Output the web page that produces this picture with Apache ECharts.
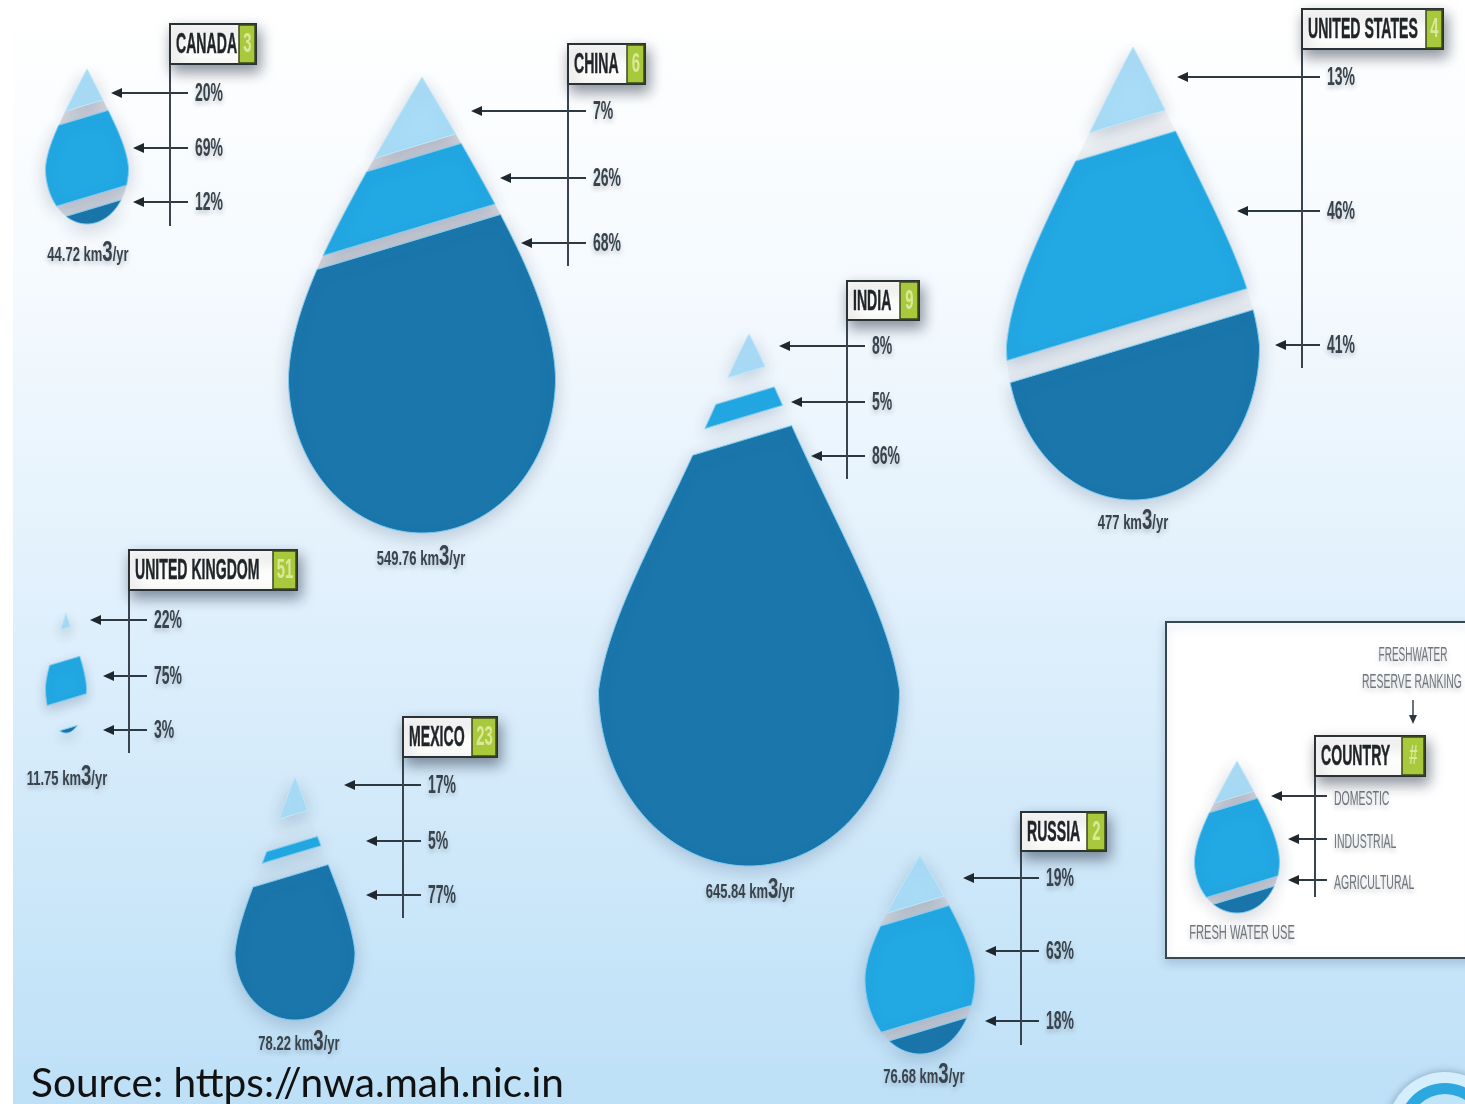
<!DOCTYPE html>
<html>
<head>
<meta charset="utf-8">
<style>html,body{margin:0;padding:0;background:#fff}#chart{width:1465px;height:1104px}</style>
<script src="https://cdn.jsdelivr.net/npm/echarts@6/dist/echarts.min.js"></script>
</head>
<body>
<div id="chart"></div>
<script>
// Freshwater withdrawals by country and how each is split between uses.
const countries = ['CANADA', 'CHINA', 'INDIA', 'UNITED STATES', 'UNITED KINGDOM', 'MEXICO', 'RUSSIA'];
const ranks = ['3', '6', '9', '4', '51', '23', '2'];
const domestic = [20, 7, 8, 13, 22, 17, 19];
const industrial = [69, 26, 5, 46, 75, 5, 63];
const agricultural = [12, 68, 86, 41, 3, 77, 18];
const withdrawals = ['44.72', '549.76', '645.84', '477', '11.75', '78.22', '76.68'];

// Key panel content.
const keyTitle = 'COUNTRY';
const keyRank = '#';
const keyUses = ['DOMESTIC', 'INDUSTRIAL', 'AGRICULTURAL'];
const keyShares = [20, 68, 12];
const keyCaption = 'FRESH WATER USE';
const keyNote = ['FRESHWATER', 'RESERVE RANKING'];
const sourceNote = 'Source: https://nwa.mah.nic.in';

// Placement of each drop, country first and the key drop last: centre x, tip y, bottom y, half width.
const dropBoxes = [
  [87, 69, 224, 41.5], [422, 77, 533, 133.5], [749, 334, 866, 150.5], [1133, 47, 500, 126.5],
  [66, 613, 733, 20.5], [295, 777, 1020, 60], [920, 855, 1054, 55], [1237, 761, 913, 42.5]
];
// Outline character of each drop: how far down the widest point sits, and how slim the shoulders are.
const dropBellies = [0.64, 0.66, 0.67, 0.66, 0.62, 0.72, 0.62, 0.66];
const dropSlimness = [0.1, 0.04, 0.2, 0.13, 0.15, 0.2, 0.05, 0.05];
// The narrow tip needs its cuts moved down so that small shares stay visible.
const cutShifts = [[11, -2], [41, 6], [6, 23], [26, 20], [5, -15], [10, 33], [16, 8], [9, -2]];
const cutGaps = [[12, 13], [11, 12], [23, 23], [24, 23], [32, 29], [29, 21], [11, 11], [8, 9]];
const gapShades = [0.85, 0.9, 0, 0.25, 0, 0.1, 0.85, 0.9];
// Header boxes: left, top, right, bottom, start of the rank tile, foot of the stem.
const headers = [
  [170, 24, 256, 64, 239, 226], [568, 44, 645, 84, 627, 266], [847, 281, 919, 320, 900, 479],
  [1302, 9, 1443, 49, 1426, 368], [129, 550, 297, 590, 273, 753], [403, 717, 497, 757, 472, 918],
  [1021, 812, 1106, 851, 1087, 1045], [1315, 736, 1425, 776, 1402, 897]
];
const arrowRows = [[93, 148, 202], [111, 178, 243], [346, 402, 456], [77, 211, 345], [620, 676, 730], [785, 841, 895], [878, 951, 1021], [796, 839, 880]];
const arrowTips = [[111, 133, 133], [471, 500, 521], [779, 791, 811], [1177, 1237, 1275], [90, 103, 103], [344, 366, 366], [963, 985, 985], [1271, 1288, 1288]];
const volumeSpots = [[88, 252], [421, 556], [750, 889], [1133, 520], [67, 776], [299, 1041], [924, 1074]];

const segmentColors = ['#a9dcf6', '#22a8e3', '#1a76ab'];
const GOTHIC = '"Liberation Sans", Arial, sans-serif';
const CUT_SLOPE = -0.3;

function sharesOf(i) {
  return i < countries.length ? [domestic[i], industrial[i], agricultural[i]] : keyShares;
}

// Outline of a drop, sampled in chart units: a tapered upper body over a rounded base.
function dropOutline(i) {
  const [cx, tip, bottom, half] = dropBoxes[i];
  const belly = dropBellies[i], slim = dropSlimness[i];
  const h = bottom - tip, right = [];
  for (let k = 0; k <= 60; k++) {
    const s = k / 60;
    const body = 1.4 * s - 0.3 * Math.pow(s, 3) - 0.1 * Math.pow(s, 5);
    const w = body * (1 - slim * Math.sin(Math.PI * Math.sqrt(s)));
    right.push([cx + half * w, tip + h * belly * s]);
  }
  for (let k = 1; k <= 60; k++) {
    const a = k / 60 * Math.PI / 2;
    right.push([cx + half * Math.cos(a), tip + h * (belly + (1 - belly) * Math.sin(a))]);
  }
  const left = right.slice(1, -1).reverse().map(p => [2 * cx - p[0], p[1]]);
  return right.concat(left);
}

// Keeps the part of a polygon on one side of a slanted cut.
function clipAt(poly, cx, y0, keepBelow) {
  const side = p => {
    const d = p[1] - (y0 + CUT_SLOPE * (p[0] - cx));
    return keepBelow ? d : -d;
  };
  const out = [];
  poly.forEach((p, i) => {
    const q = poly[(i + 1) % poly.length], a = side(p), b = side(q);
    if (a >= 0) out.push(p);
    if (a * b < 0) {
      const r = a / (a - b);
      out.push([p[0] + (q[0] - p[0]) * r, p[1] + (q[1] - p[1]) * r]);
    }
  });
  return out;
}

// Vertical positions of both cuts, taken from the cumulative shares.
function cutsOf(i) {
  const s = sharesOf(i), sum = s[0] + s[1] + s[2];
  const [, tip, bottom] = dropBoxes[i];
  const h = bottom - tip;
  return [
    tip + h * s[0] / sum + cutShifts[i][0],
    tip + h * (s[0] + s[1]) / sum + cutShifts[i][1]
  ];
}

function label(api, x, y, text, opt) {
  const p = api.coord([x, y]);
  return {
    type: 'text', x: p[0], y: p[1], scaleX: opt.sx || 1,
    style: {
      text: text, fill: opt.fill || '#2f3942', align: opt.align || 'left', verticalAlign: 'middle',
      font: (opt.weight || 'bold') + ' ' + opt.size + 'px ' + (opt.family || GOTHIC),
      stroke: opt.thicken ? opt.fill : undefined, lineWidth: opt.thicken || 0,
      textShadowColor: opt.soft === false ? 'transparent' : 'rgba(40,50,70,0.28)',
      textShadowBlur: opt.soft === false ? 0 : 5, textShadowOffsetY: 3,
      rich: opt.rich
    }
  };
}

function polygonOf(api, pts, style) {
  return { type: 'polygon', shape: { points: pts.map(p => api.coord(p)) }, style: style };
}

// One row per band of a drop: drop index, band index, share.
const bandRows = [];
dropBoxes.forEach((_, i) => sharesOf(i).forEach((v, b) => bandRows.push([i, b, v])));

function renderBand(params, api) {
  const i = api.value(0), b = api.value(1);
  const box = dropBoxes[i], cuts = cutsOf(i), gaps = cutGaps[i], cx = box[0];
  const outline = dropOutline(i);
  let pts = outline;
  if (b > 0) pts = clipAt(pts, cx, cuts[b - 1] + gaps[b - 1] / 2, true);
  if (b < 2) pts = clipAt(pts, cx, cuts[b] - gaps[b] / 2, false);
  const children = [];
  if (b < 2 && gapShades[i] > 0) {
    let band = clipAt(outline, cx, cuts[b] - gaps[b] / 2, true);
    band = clipAt(band, cx, cuts[b] + gaps[b] / 2, false);
    children.push(polygonOf(api, band, { fill: 'rgba(208,211,220,' + gapShades[i] + ')' }));
  }
  children.push(polygonOf(api, pts, {
    fill: segmentColors[b],
    stroke: b === 0 ? '#c2e8fa' : '#7fcdf2', lineWidth: 1,
    shadowColor: 'rgba(45,65,100,0.24)', shadowBlur: Math.min(18, box[3] * 0.3 + 6), shadowOffsetY: 5
  }));
  return { type: 'group', children: children };
}

function renderHeader(params, api) {
  const i = api.value(0);
  const [l, t, r, bot, tile, foot] = headers[i];
  const name = i < countries.length ? countries[i] : keyTitle;
  const rank = i < countries.length ? ranks[i] : keyRank;
  const a = api.coord([l, t]), c = api.coord([r, bot]), tl = api.coord([tile, t]);
  const s0 = api.coord([l, bot]), s1 = api.coord([l, foot]);
  return {
    type: 'group',
    children: [
      { type: 'line', shape: { x1: s0[0], y1: s0[1], x2: s1[0], y2: s1[1] }, style: { stroke: '#3a444e', lineWidth: 2 } },
      {
        type: 'rect', shape: { x: a[0], y: a[1], width: c[0] - a[0], height: c[1] - a[1] },
        style: { fill: '#fdfdfb', stroke: '#2b3234', lineWidth: 2, shadowColor: 'rgba(30,40,60,0.5)', shadowBlur: 14, shadowOffsetX: 3, shadowOffsetY: 7 }
      },
      {
        type: 'rect', shape: { x: tl[0], y: a[1] + 1, width: c[0] - tl[0] - 1, height: c[1] - a[1] - 2 },
        style: { fill: '#a7c93b', stroke: '#3c4a1e', lineWidth: 1.5 }
      },
      label(api, l + 6, (t + bot) / 2 + 1, name, { size: 30, sx: 0.47, fill: '#1f2428', soft: false, thicken: 0.5 }),
      label(api, (tile + r) / 2, (t + bot) / 2 + 1, rank, { size: 27, sx: 0.55, fill: '#dbe89a', align: 'center', soft: false })
    ]
  };
}

function renderArrow(params, api) {
  const i = api.value(0), b = api.value(1);
  const stem = headers[i][0], y = arrowRows[i][b], tip = arrowTips[i][b];
  const isKey = i >= countries.length;
  const end = stem + (isKey ? 12 : 18);
  const p0 = api.coord([tip + 6, y]), p1 = api.coord([end, y]);
  const text = isKey ? keyUses[b] : api.value(2) + '%';
  return {
    type: 'group',
    children: [
      { type: 'line', shape: { x1: p0[0], y1: p0[1], x2: p1[0], y2: p1[1] }, style: { stroke: '#2f3942', lineWidth: 2 } },
      polygonOf(api, [[tip, y], [tip + 11, y - 5], [tip + 11, y + 5]], { fill: '#20282f' }),
      isKey
        ? label(api, end + 7, y + 3, text, { size: 21, sx: 0.5, weight: 'normal', fill: '#6f767c' })
        : label(api, end + 7, y + 1, text, { size: 25, sx: 0.56, fill: '#39434c' })
    ]
  };
}

function renderVolume(params, api) {
  const i = api.value(0);
  const spot = volumeSpots[i];
  return {
    type: 'group',
    children: [label(api, spot[0], spot[1], '{a|' + withdrawals[i] + ' km}{b|3}{a|/yr}', {
      size: 21, sx: 0.62, align: 'center', fill: '#39434c',
      rich: {
        a: { font: 'bold 21px ' + GOTHIC, fill: '#39434c', verticalAlign: 'bottom', lineHeight: 22 },
        b: { font: 'bold 30px ' + GOTHIC, fill: '#39434c', verticalAlign: 'top', lineHeight: 28, padding: [0, 0, 7, 0] }
      }
    })]
  };
}

// White key panel with its notes; the drop and arrows inside it come from the same series as the rest.
function renderPanel(params, api) {
  const a = api.coord([1166, 622]), c = api.coord([1475, 958]);
  const ax = api.coord([1413, 700]), ay = api.coord([1413, 716]);
  return {
    type: 'group',
    children: [
      {
        type: 'rect', shape: { x: a[0], y: a[1], width: c[0] - a[0], height: c[1] - a[1] },
        style: { fill: '#ffffff', stroke: '#3a4650', lineWidth: 2, shadowColor: 'rgba(60,90,130,0.25)', shadowBlur: 10, shadowOffsetY: 4 }
      },
      label(api, 1413, 655, keyNote[0], { size: 20, sx: 0.5, weight: 'normal', fill: '#6f767c', align: 'center' }),
      label(api, 1412, 682, keyNote[1], { size: 20, sx: 0.52, weight: 'normal', fill: '#6f767c', align: 'center' }),
      { type: 'line', shape: { x1: ax[0], y1: ax[1], x2: ay[0], y2: ay[1] }, style: { stroke: '#3a444e', lineWidth: 1.5 } },
      polygonOf(api, [[1413, 724], [1409, 715], [1417, 715]], { fill: '#2f3942' }),
      label(api, 1242, 933, keyCaption, { size: 21, sx: 0.53, weight: 'normal', fill: '#6f767c', align: 'center' })
    ]
  };
}

function renderSource(params, api) {
  return { type: 'group', children: [label(api, 31, 1084, sourceNote, { size: 41, sx: 0.99, weight: 'normal', family: 'Lato, "Open Sans", sans-serif', fill: '#111111', soft: false })] };
}

const dropIndexes = dropBoxes.map((_, i) => [i]);
const hiddenAxis = { type: 'value', show: false, min: 0, splitLine: { show: false } };

const chart = echarts.init(document.getElementById('chart'), null, { renderer: 'canvas' });
chart.setOption({
  animation: false,
  backgroundColor: '#ffffff',
  grid: { left: 0, right: 0, top: 0, bottom: 0 },
  xAxis: Object.assign({}, hiddenAxis, { max: 1465 }),
  yAxis: Object.assign({}, hiddenAxis, { max: 1104, inverse: true }),
  graphic: [
    {
      type: 'rect', z: -10, shape: { x: 13, y: 0, width: 1452, height: 1104 },
      style: {
        fill: {
          type: 'linear', x: 0, y: 0, x2: 0, y2: 1,
          colorStops: [
            { offset: 0, color: '#ffffff' }, { offset: 0.25, color: '#f5fafe' },
            { offset: 0.55, color: '#e0f0fc' }, { offset: 1, color: '#bde0f7' }
          ]
        }
      }
    },
    { type: 'circle', z: -5, shape: { cx: 1445, cy: 1130, r: 58 }, style: { fill: '#d4eefb', shadowColor: 'rgba(60,80,110,0.45)', shadowBlur: 8 } },
    { type: 'circle', z: -5, shape: { cx: 1445, cy: 1130, r: 47 }, style: { fill: '#2aa8df' } },
    { type: 'circle', z: -5, shape: { cx: 1445, cy: 1130, r: 36 }, style: { fill: '#bfe4f8' } }
  ],
  series: [
    { type: 'custom', name: 'key panel', coordinateSystem: 'cartesian2d', data: [[0]], renderItem: renderPanel, z: 1, silent: true },
    { type: 'custom', name: 'water use', coordinateSystem: 'cartesian2d', data: bandRows, renderItem: renderBand, z: 2, silent: true },
    { type: 'custom', name: 'arrows', coordinateSystem: 'cartesian2d', data: bandRows, renderItem: renderArrow, z: 3, silent: true },
    { type: 'custom', name: 'headers', coordinateSystem: 'cartesian2d', data: dropIndexes, renderItem: renderHeader, z: 4, silent: true },
    { type: 'custom', name: 'withdrawal', coordinateSystem: 'cartesian2d', data: countries.map((_, i) => [i]), renderItem: renderVolume, z: 4, silent: true },
    { type: 'custom', name: 'source', coordinateSystem: 'cartesian2d', data: [[0]], renderItem: renderSource, z: 5, silent: true }
  ]
});
</script>
</body>
</html>
